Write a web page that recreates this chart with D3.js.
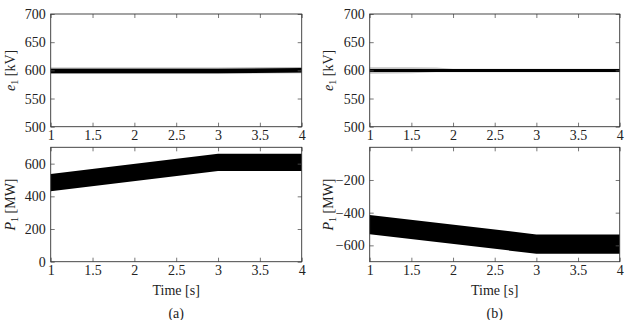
<!DOCTYPE html>
<html>
<head>
<meta charset="utf-8">
<script src="https://cdn.jsdelivr.net/npm/d3@7"></script>
<style>
  body { margin: 0; background: #fff; }
  svg, svg text { font-family: "Liberation Serif", "Times New Roman", Times, "DejaVu Serif", serif !important; }
</style>
</head>
<body>
<div id="chart"></div>
<script>
// envelope of the oscillating signals
var time = [1, 3, 4];

// (a)
var eA_hi = [603, 603, 604], eA_lo = [595, 595, 596];
var eA_fringeHi = [605, 605, 606], eA_fringeLo = [594, 594, 595];
var pA_hi = [537, 660, 660], pA_lo = [431, 555, 555];

// (b)
var timeNoise = [1, 1.5, 1.8, 2, 4];
var eB_fringeHi = [605.5, 605.5, 605, 603, 603], eB_fringeLo = [594, 595, 596.5, 596.5, 596.5];
var eB_hi = [602.5, 602.5, 602.5], eB_lo = [597, 597, 597];
var pB_hi = [-415, -533, -533], pB_lo = [-532, -651, -651];

var xTicks = [1, 1.5, 2, 2.5, 3, 3.5, 4];
var eTicks = [500, 550, 600, 650, 700];
var pATicks = [0, 200, 400, 600];
var pBTicks = [-600, -400, -200];

var width = 627, height = 320;
var serif = "'Liberation Serif', 'Times New Roman', Times, serif";

var svg = d3.select("#chart").append("svg")
    .attr("width", width)
    .attr("height", height)
    .attr("font-family", serif);

var cols = [[50.7, 301.7], [369.7, 619.7]];
var rows = [[14, 126.7], [147.3, 261.7]];

function fmt(d) {
    return String(d).replace("-", "\u2212");
}

function panel(col, row, yDomain, yTicks, bands, label) {
    var x = d3.scaleLinear().domain([1, 4]).range(cols[col]);
    var y = d3.scaleLinear().domain(yDomain).range([rows[row][1], rows[row][0]]);
    var g = svg.append("g");

    // signal bands
    bands.forEach(function (b) {
        var area = d3.area()
            .x(function (d, i) { return x(b.t[i]); })
            .y0(function (d, i) { return y(b.lo[i]); })
            .y1(function (d, i) { return y(b.hi[i]); });
        g.append("path")
            .datum(b.hi)
            .attr("d", area)
            .attr("fill", b.color);
    });

    // axes, ticks pointing inward like pgfplots
    var axes = [
        [d3.axisBottom(x), "translate(0," + rows[row][1] + ")", true],
        [d3.axisTop(x), "translate(0," + rows[row][0] + ")", false],
    ];
    axes.forEach(function (a) {
        var ax = g.append("g").attr("transform", a[1])
            .call(a[0].tickValues(xTicks).tickSize(-4).tickPadding(3)
                .tickFormat(a[2] ? function (d) { return d; } : ""));
        ax.select(".domain").remove();
    });
    var yl = g.append("g").attr("transform", "translate(" + cols[col][0] + ",0)")
        .call(d3.axisLeft(y).tickValues(yTicks).tickSize(-4).tickPadding(5).tickFormat(fmt));
    yl.select(".domain").remove();
    var yr = g.append("g").attr("transform", "translate(" + cols[col][1] + ",0)")
        .call(d3.axisRight(y).tickValues(yTicks).tickSize(-4).tickFormat(""));
    yr.select(".domain").remove();

    g.selectAll(".tick line").attr("stroke", "#555").attr("stroke-width", 0.8);
    g.selectAll("g").attr("font-family", serif);
    g.selectAll(".tick text").attr("font-size", 14).attr("fill", "#222");

    g.append("rect")
        .attr("x", cols[col][0]).attr("y", rows[row][0])
        .attr("width", cols[col][1] - cols[col][0])
        .attr("height", rows[row][1] - rows[row][0])
        .attr("fill", "none").attr("stroke", "#333").attr("stroke-width", 0.9);

    // y label
    var cy = (rows[row][0] + rows[row][1]) / 2;
    var lx = col === 0 ? 15 : 333;
    var t = g.append("text")
        .attr("transform", "translate(" + lx + "," + cy + ") rotate(-90)")
        .attr("text-anchor", "middle")
        .attr("font-size", 14)
        .attr("fill", "#222");
    t.append("tspan").attr("font-style", "italic").text(label[0]);
    t.append("tspan").attr("font-size", 10).attr("dy", 3).text("1");
    t.append("tspan").attr("dy", -3).text(" " + label[1]);

    return x;
}

panel(0, 0, [500, 700], eTicks, [
    {t: time, hi: eA_fringeHi, lo: eA_fringeLo, color: "#b8b8b8"},
    {t: time, hi: eA_hi, lo: eA_lo, color: "#000"}
], ["e", "[kV]"]);

panel(0, 1, [0, 700], pATicks, [
    {t: time, hi: pA_hi, lo: pA_lo, color: "#000"}
], ["P", "[MW]"]);

panel(1, 0, [500, 700], eTicks, [
    {t: timeNoise, hi: eB_fringeHi, lo: eB_fringeLo, color: "#c4c4c4"},
    {t: time, hi: eB_hi, lo: eB_lo, color: "#000"}
], ["e", "[kV]"]);

panel(1, 1, [-700, 0], pBTicks, [
    {t: time, hi: pB_hi, lo: pB_lo, color: "#000"}
], ["P", "[MW]"]);

// x labels and captions
[0, 1].forEach(function (c) {
    var cx = (cols[c][0] + cols[c][1]) / 2;
    svg.append("text").attr("x", cx).attr("y", 295)
        .attr("text-anchor", "middle").attr("font-size", 14).attr("fill", "#222")
        .text("Time [s]");
    svg.append("text").attr("x", cx).attr("y", 318)
        .attr("text-anchor", "middle").attr("font-size", 14).attr("fill", "#222")
        .text(c === 0 ? "(a)" : "(b)");
});
</script>
</body>
</html>
